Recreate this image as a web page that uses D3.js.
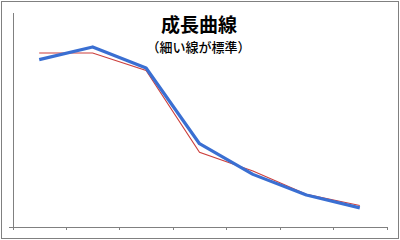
<!DOCTYPE html>
<html>
<head>
<meta charset="utf-8">
<script src="https://cdn.jsdelivr.net/npm/d3@7"></script>
<style>
  html, body { margin: 0; padding: 0; background: #fff; }
  svg { display: block; }
</style>
</head>
<body>
<svg id="chart" width="400" height="240"></svg>
<script>
const categories = ["1", "2", "3", "4", "5", "6", "7"];
const actualValues = [77.8, 83.7, 73.9, 38.6, 24.3, 14.7, 8.7];
const standardValues = [80.9, 80.9, 72.7, 34.6, 25.9, 15.0, 9.8];
const titleText = "成長曲線";
const subtitleText = "（細い線が標準）";

(function () {
const svg = d3.select("#chart");
const W = 400, H = 240;
const mLeft = 12.5, mRight = 386.5, mTop = 12, mBottom = 226.5;
const axisColor = "#808080";

svg.append("rect")
  .attr("x", 1.5).attr("y", 1.5)
  .attr("width", W - 3).attr("height", H - 3)
  .attr("fill", "#fff").attr("stroke", axisColor).attr("stroke-width", 1);

const x = d3.scaleBand().domain(categories).range([mLeft, mRight]).padding(0);
const xEdge = d3.scaleLinear().domain([0, categories.length]).range([mLeft, mRight]);
const y = d3.scaleLinear().domain([0, 100]).range([mBottom, mTop]);

// x axis (ticks at category boundaries)
const gx = svg.append("g").attr("transform", `translate(0,${mBottom})`)
  .call(d3.axisBottom(xEdge).tickValues(d3.range(categories.length + 1))
    .tickSize(3).tickSizeOuter(0).tickFormat(""));
gx.selectAll("path,line").attr("stroke", axisColor).attr("shape-rendering", "crispEdges");

// y axis
const gy = svg.append("g").attr("transform", `translate(${mLeft},0)`)
  .call(d3.axisLeft(y).tickValues([0]).tickSize(3.5).tickSizeOuter(0).tickFormat(""));
gy.selectAll("path,line").attr("stroke", axisColor).attr("shape-rendering", "crispEdges");

const cx = d => x(d) + x.bandwidth() / 2;
const line = d3.line().x((d, i) => cx(categories[i])).y(d => y(d));

svg.append("path").datum(standardValues)
  .attr("d", line).attr("fill", "none")
  .attr("stroke", "#cc3f3c").attr("stroke-width", 1.1);

svg.append("path").datum(actualValues)
  .attr("d", line).attr("fill", "none")
  .attr("stroke", "#3a6fd2").attr("stroke-width", 3.2)
  .attr("stroke-linejoin", "round");

svg.append("text").text(titleText)
  .attr("x", 199).attr("y", 23)
  .attr("text-anchor", "middle").attr("dominant-baseline", "central")
  .attr("font-family", "'Noto Sans CJK JP', sans-serif")
  .attr("font-size", 19).attr("font-weight", "bold").attr("fill", "#000");

svg.append("text").text(subtitleText)
  .attr("x", 198.5).attr("y", 46)
  .attr("text-anchor", "middle").attr("dominant-baseline", "central")
  .attr("font-family", "'Noto Sans CJK JP', sans-serif")
  .attr("font-size", 13).attr("font-weight", 500).attr("fill", "#000");
})();
</script>
</body>
</html>
